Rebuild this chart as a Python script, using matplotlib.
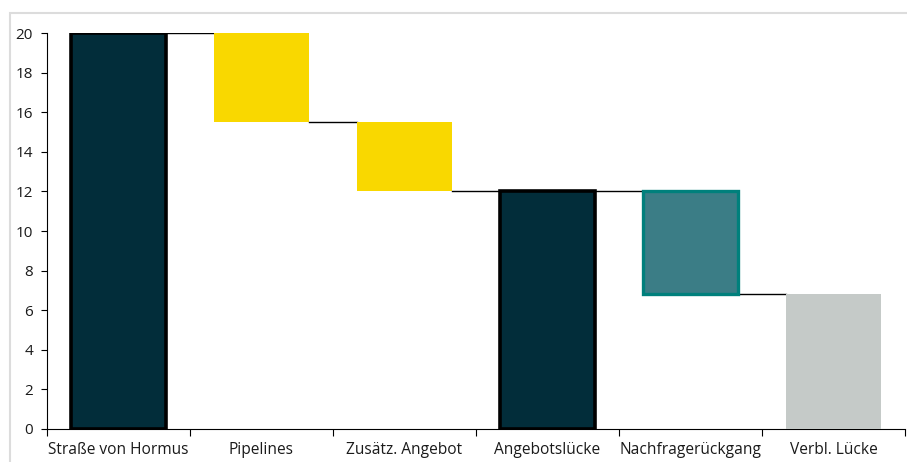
import matplotlib
matplotlib.use("Agg")
import matplotlib.pyplot as plt
from matplotlib.patches import Rectangle
import numpy as np

plt.rcParams['font.family'] = ['Open Sans', 'DejaVu Sans']

categories = ["Straße von Hormus", "Pipelines", "Zusätz. Angebot",
              "Angebotslücke", "Nachfragerückgang", "Verbl. Lücke"]
# Either a change (delta) or a running total ("total")
deltas = [20.0, -4.5, -3.5, None, -5.2, None]
kinds = ["total", "delta", "delta", "total", "delta", "total"]

# per-bar styling
facecolors = ["#022d3a", "#f9d800", "#f9d800", "#022d3a", "#3b7d86", "#c5cac8"]
edgecolors = ["#000000", "none", "none", "#000000", "#00807c", "none"]
edgewidths = [2.6, 0, 0, 2.6, 2.4, 0]

fig = plt.figure(figsize=(9.07, 4.62), dpi=100)
ax = fig.add_axes([47/907, 1-429/462, (905-47)/907, (429-33)/462])

x = np.arange(len(categories))
width = 0.67
level = 0.0
bottoms, heights, ends = [], [], []
for d, k in zip(deltas, kinds):
    if k == "total":
        if d is not None:
            level = d
        bottoms.append(0.0)
        heights.append(level)
    else:
        new = level + d
        bottoms.append(min(level, new))
        heights.append(abs(d))
        level = new
    ends.append(level)

for i in range(len(categories)):
    ax.bar(x[i], heights[i], width=width, bottom=bottoms[i],
           color=facecolors[i], edgecolor=edgecolors[i],
           linewidth=edgewidths[i], zorder=3)

# connector lines between consecutive bars
for i in range(len(categories) - 1):
    ax.plot([x[i] + width/2, x[i+1] - width/2], [ends[i], ends[i]],
            color="#000000", lw=1.0, zorder=2)

ax.set_xlim(-0.5, len(categories) - 0.5)
ax.set_ylim(0, 20)
ax.set_yticks(np.arange(0, 21, 2))
ax.set_xticks(x)
ax.set_xticklabels(categories)
ax.set_xticks(np.arange(-0.5, len(categories)), minor=True)
ax.tick_params(axis="x", which="major", length=0, pad=9, labelsize=11.2, labelcolor="#1a1a1a")
ax.tick_params(axis="x", which="minor", length=5, width=0.8, direction="out")
ax.tick_params(axis="y", length=4, width=0.8, labelsize=11, labelcolor="#1a1a1a", pad=6)

for s in ["top", "right"]:
    ax.spines[s].set_visible(False)
ax.spines["left"].set_linewidth(0.8)
ax.spines["bottom"].set_linewidth(0.8)

# light outer frame
frame = Rectangle((10/907, -0.1), 1.1, (1 - 13/462) + 0.1, transform=fig.transFigure,
                  fill=False, edgecolor="#dcdcdc", linewidth=1.5, clip_on=False)
fig.patches.append(frame)

fig.savefig("out.png", dpi=100)
